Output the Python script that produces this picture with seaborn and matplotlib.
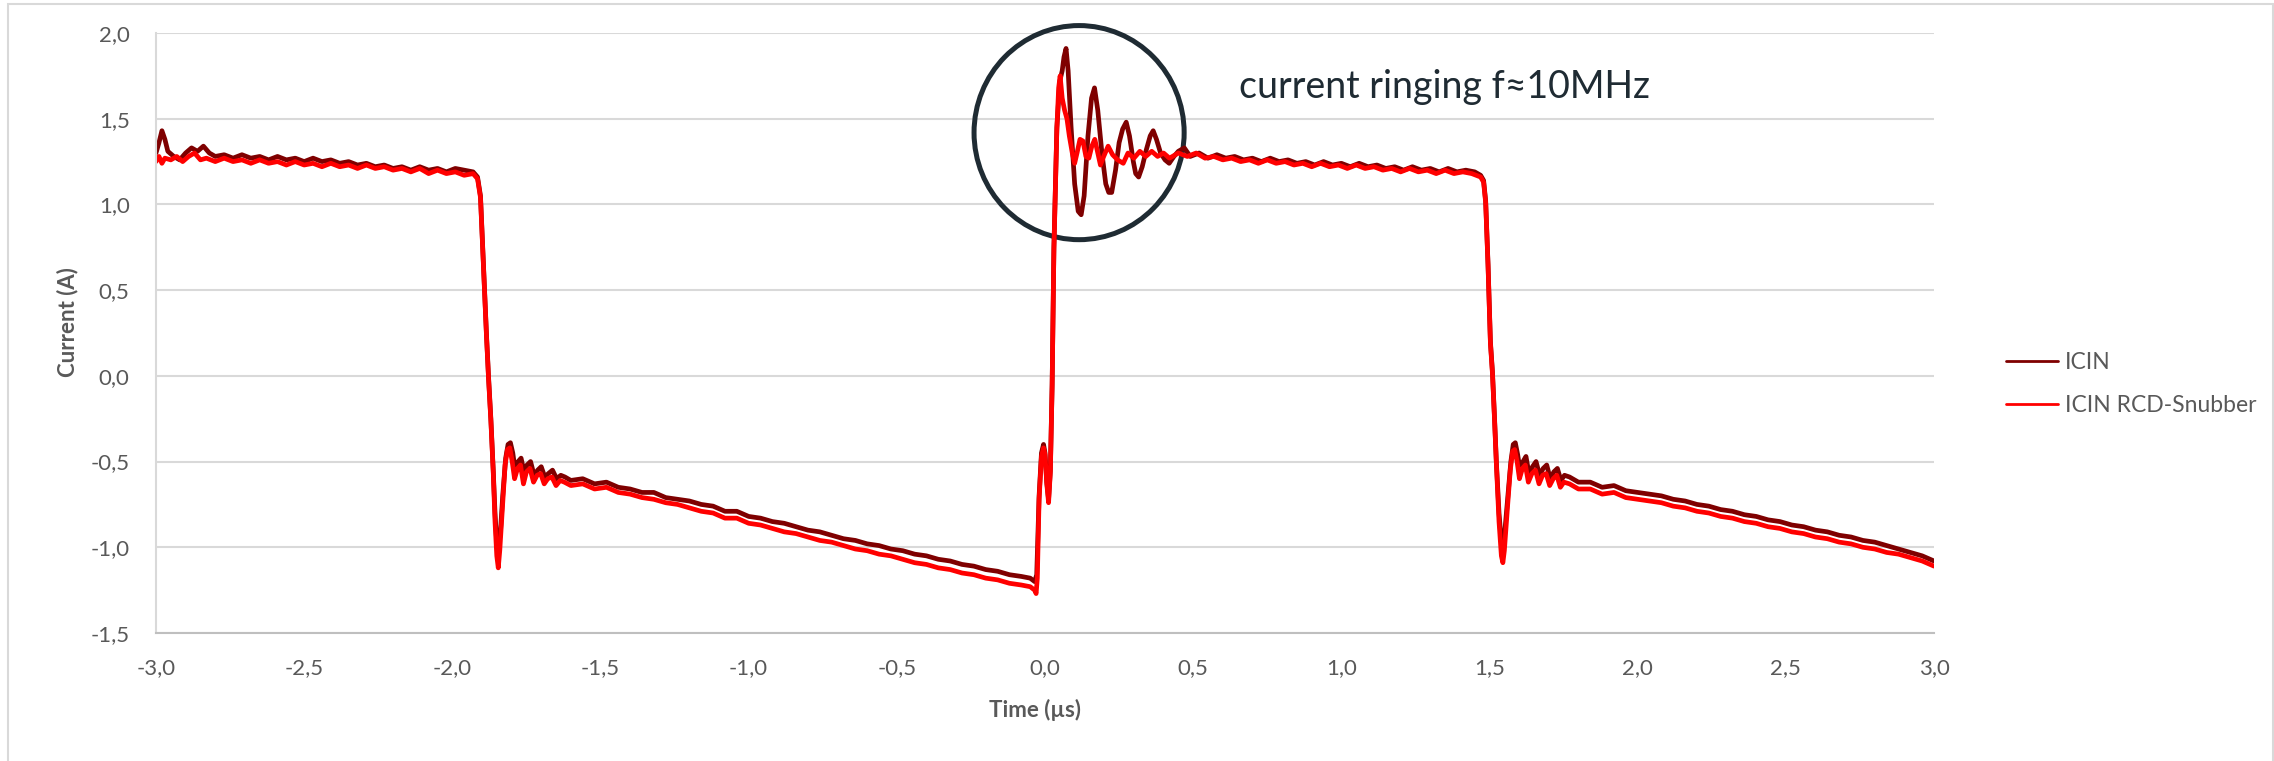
import matplotlib
matplotlib.use("Agg")
import matplotlib.pyplot as plt
from matplotlib.patches import Ellipse, Rectangle
import pandas as pd
import seaborn as sns

# ICIN (without snubber): time in us, current in A
icin_t = [-3.00, -2.99, -2.98, -2.97, -2.96, -2.94, -2.92, -2.90, -2.88, -2.86, -2.84, -2.82,
          -2.80, -2.77, -2.74, -2.71, -2.68, -2.65, -2.62, -2.59, -2.56, -2.53, -2.50, -2.47,
          -2.44, -2.41, -2.38, -2.35, -2.32, -2.29, -2.26, -2.23, -2.20, -2.17, -2.14, -2.11,
          -2.08, -2.05, -2.02, -1.99, -1.96, -1.93, -1.915, -1.905, -1.895, -1.885, -1.878,
          -1.870, -1.862, -1.856, -1.850, -1.845, -1.838, -1.830, -1.820, -1.812, -1.804,
          -1.796, -1.788, -1.778, -1.768, -1.758, -1.748, -1.736, -1.724, -1.712, -1.700,
          -1.688, -1.676, -1.662, -1.648, -1.634, -1.620, -1.60, -1.56, -1.52, -1.48, -1.44,
          -1.40, -1.36, -1.32, -1.28, -1.24, -1.20, -1.16, -1.12, -1.08, -1.04, -1.00, -0.96,
          -0.92, -0.88, -0.84, -0.80, -0.76, -0.72, -0.68, -0.64, -0.60, -0.56, -0.52, -0.48,
          -0.44, -0.40, -0.36, -0.32, -0.28, -0.24, -0.20, -0.16, -0.12, -0.08, -0.05, -0.035,
          -0.028, -0.020, -0.012, -0.005, 0.000, 0.006, 0.012, 0.018, 0.024, 0.030, 0.040,
          0.050, 0.058, 0.064, 0.071, 0.078, 0.088, 0.100, 0.112, 0.122, 0.132, 0.145, 0.157,
          0.167, 0.178, 0.192, 0.205, 0.215, 0.225, 0.238, 0.250, 0.262, 0.274, 0.285, 0.298,
          0.306, 0.316, 0.328, 0.342, 0.355, 0.365, 0.376, 0.390, 0.405, 0.419, 0.435, 0.450,
          0.47, 0.49, 0.52, 0.55, 0.58, 0.61, 0.64, 0.67, 0.70, 0.73, 0.76, 0.79, 0.82, 0.85,
          0.88, 0.91, 0.94, 0.97, 1.00, 1.03, 1.06, 1.09, 1.12, 1.15, 1.18, 1.21, 1.24, 1.27,
          1.30, 1.33, 1.36, 1.39, 1.42, 1.45, 1.47, 1.480, 1.487, 1.495, 1.503, 1.510, 1.517,
          1.523, 1.532, 1.540, 1.545, 1.552, 1.562, 1.572, 1.580, 1.587, 1.595, 1.603, 1.613,
          1.623, 1.633, 1.645, 1.657, 1.669, 1.681, 1.693, 1.705, 1.717, 1.729, 1.741, 1.753,
          1.77, 1.80, 1.84, 1.88, 1.92, 1.96, 2.00, 2.04, 2.08, 2.12, 2.16, 2.20, 2.24, 2.28,
          2.32, 2.36, 2.40, 2.44, 2.48, 2.52, 2.56, 2.60, 2.64, 2.68, 2.72, 2.76, 2.80, 2.84,
          2.88, 2.92, 2.96, 3.00]
icin_a = [1.30, 1.36, 1.43, 1.38, 1.31, 1.28, 1.26, 1.30, 1.33, 1.31, 1.34, 1.30,
          1.28, 1.29, 1.27, 1.29, 1.27, 1.28, 1.26, 1.28, 1.26, 1.27, 1.25, 1.27,
          1.25, 1.26, 1.24, 1.25, 1.23, 1.24, 1.22, 1.23, 1.21, 1.22, 1.20, 1.22,
          1.20, 1.21, 1.19, 1.21, 1.20, 1.19, 1.16, 1.05, 0.65, 0.25, 0.00,
          -0.25, -0.55, -0.80, -0.98, -1.00, -0.92, -0.70, -0.48, -0.40, -0.39,
          -0.45, -0.55, -0.50, -0.48, -0.56, -0.52, -0.50, -0.58, -0.55, -0.53,
          -0.59, -0.57, -0.55, -0.60, -0.58, -0.59, -0.61, -0.60, -0.63, -0.62, -0.65,
          -0.66, -0.68, -0.68, -0.71, -0.72, -0.73, -0.75, -0.76, -0.79, -0.79, -0.82, -0.83,
          -0.85, -0.86, -0.88, -0.90, -0.91, -0.93, -0.95, -0.96, -0.98, -0.99, -1.01, -1.02,
          -1.04, -1.05, -1.07, -1.08, -1.10, -1.11, -1.13, -1.14, -1.16, -1.17, -1.18, -1.20,
          -1.16, -0.70, -0.45, -0.40, -0.45, -0.62, -0.72, -0.55, -0.05, 0.75, 1.45,
          1.72, 1.78, 1.86, 1.91, 1.78, 1.45, 1.12, 0.96, 0.94, 1.05, 1.40, 1.62,
          1.68, 1.55, 1.30, 1.12, 1.07, 1.07, 1.20, 1.36, 1.44, 1.48, 1.40, 1.25,
          1.18, 1.16, 1.22, 1.32, 1.40, 1.43, 1.38, 1.30, 1.26, 1.24, 1.28, 1.31,
          1.33, 1.28, 1.30, 1.27, 1.29, 1.27, 1.28, 1.26, 1.27, 1.25, 1.27, 1.25, 1.26, 1.24,
          1.25, 1.23, 1.25, 1.23, 1.24, 1.22, 1.24, 1.22, 1.23, 1.21, 1.22, 1.20, 1.22, 1.20,
          1.21, 1.19, 1.21, 1.19, 1.20, 1.19, 1.17, 1.14, 1.02, 0.65, 0.20, 0.02, -0.25,
          -0.50, -0.80, -0.97, -0.98, -0.90, -0.70, -0.50, -0.40, -0.39, -0.46, -0.55, -0.50,
          -0.47, -0.57, -0.53, -0.50, -0.58, -0.54, -0.52, -0.60, -0.56, -0.54, -0.61, -0.58,
          -0.59, -0.62, -0.62, -0.65, -0.64, -0.67, -0.68, -0.69, -0.70, -0.72, -0.73, -0.75, -0.76, -0.78,
          -0.79, -0.81, -0.82, -0.84, -0.85, -0.87, -0.88, -0.90, -0.91, -0.93, -0.94, -0.96, -0.97, -0.99,
          -1.01, -1.03, -1.05, -1.08]

# ICIN with RCD snubber
snub_t = [-3.00, -2.99, -2.98, -2.97, -2.95, -2.93, -2.91, -2.89, -2.87, -2.85, -2.83,
          -2.80, -2.77, -2.74, -2.71, -2.68, -2.65, -2.62, -2.59, -2.56, -2.53, -2.50, -2.47,
          -2.44, -2.41, -2.38, -2.35, -2.32, -2.29, -2.26, -2.23, -2.20, -2.17, -2.14, -2.11,
          -2.08, -2.05, -2.02, -1.99, -1.96, -1.93, -1.915, -1.905, -1.895, -1.885, -1.878,
          -1.870, -1.862, -1.856, -1.850, -1.845, -1.840, -1.832, -1.822, -1.814, -1.806,
          -1.798, -1.790, -1.780, -1.770, -1.760, -1.750, -1.738, -1.726, -1.714, -1.702,
          -1.690, -1.678, -1.664, -1.650, -1.636, -1.622, -1.60, -1.56, -1.52, -1.48, -1.44,
          -1.40, -1.36, -1.32, -1.28, -1.24, -1.20, -1.16, -1.12, -1.08, -1.04, -1.00, -0.96,
          -0.92, -0.88, -0.84, -0.80, -0.76, -0.72, -0.68, -0.64, -0.60, -0.56, -0.52, -0.48,
          -0.44, -0.40, -0.36, -0.32, -0.28, -0.24, -0.20, -0.16, -0.12, -0.08, -0.05, -0.035,
          -0.030, -0.026, -0.020, -0.012, -0.005, 0.000, 0.006, 0.012, 0.018, 0.024, 0.030,
          0.040, 0.046, 0.051, 0.058, 0.066, 0.074, 0.082, 0.092, 0.100, 0.108, 0.118, 0.128,
          0.138, 0.148, 0.158, 0.168, 0.178, 0.187, 0.198, 0.213, 0.228, 0.245, 0.264,
          0.28, 0.30, 0.32, 0.34, 0.36, 0.38, 0.40, 0.42, 0.45, 0.48, 0.51, 0.54, 0.57, 0.60,
          0.63, 0.66, 0.69, 0.72, 0.75, 0.78, 0.81, 0.84, 0.87, 0.90, 0.93, 0.96, 0.99, 1.02,
          1.05, 1.08, 1.11, 1.14, 1.17, 1.20, 1.23, 1.26, 1.29, 1.32, 1.35, 1.38, 1.41, 1.44,
          1.47, 1.480, 1.487, 1.495, 1.503, 1.510, 1.517, 1.523, 1.532, 1.540, 1.545, 1.550,
          1.560, 1.570, 1.578, 1.585, 1.593, 1.601, 1.611, 1.621, 1.631, 1.643, 1.655, 1.667,
          1.679, 1.691, 1.703, 1.715, 1.727, 1.739, 1.751, 1.77, 1.80, 1.84, 1.88, 1.92, 1.96,
          2.00, 2.04, 2.08, 2.12, 2.16, 2.20, 2.24, 2.28, 2.32, 2.36, 2.40, 2.44, 2.48, 2.52,
          2.56, 2.60, 2.64, 2.68, 2.72, 2.76, 2.80, 2.84, 2.88, 2.92, 2.96, 3.00]
snub_a = [1.25, 1.28, 1.24, 1.27, 1.26, 1.28, 1.25, 1.28, 1.30, 1.26, 1.27,
          1.25, 1.27, 1.25, 1.26, 1.24, 1.26, 1.24, 1.25, 1.23, 1.25, 1.23, 1.24,
          1.22, 1.24, 1.22, 1.23, 1.21, 1.23, 1.21, 1.22, 1.20, 1.21, 1.19, 1.21,
          1.18, 1.20, 1.18, 1.19, 1.17, 1.18, 1.15, 1.04, 0.64, 0.24, -0.01,
          -0.26, -0.56, -0.85, -1.05, -1.12, -1.02, -0.80, -0.52, -0.43, -0.42,
          -0.50, -0.60, -0.54, -0.52, -0.63, -0.56, -0.54, -0.62, -0.58, -0.57,
          -0.63, -0.60, -0.59, -0.64, -0.61, -0.62, -0.64, -0.63, -0.66, -0.65, -0.68,
          -0.69, -0.71, -0.72, -0.74, -0.75, -0.77, -0.79, -0.80, -0.83, -0.83, -0.86, -0.87,
          -0.89, -0.91, -0.92, -0.94, -0.96, -0.97, -0.99, -1.01, -1.02, -1.04, -1.05, -1.07,
          -1.09, -1.10, -1.12, -1.13, -1.15, -1.16, -1.18, -1.19, -1.21, -1.22, -1.23, -1.25,
          -1.27, -1.18, -0.72, -0.47, -0.42, -0.46, -0.63, -0.74, -0.56, -0.06, 0.74,
          1.44, 1.68, 1.75, 1.62, 1.55, 1.50, 1.40, 1.30, 1.24, 1.30, 1.38, 1.37,
          1.28, 1.27, 1.34, 1.38, 1.30, 1.23, 1.28, 1.34, 1.29, 1.26, 1.24,
          1.30, 1.27, 1.31, 1.28, 1.31, 1.28, 1.30, 1.27, 1.30, 1.28, 1.30, 1.27, 1.28, 1.26,
          1.27, 1.25, 1.26, 1.24, 1.26, 1.24, 1.25, 1.23, 1.24, 1.22, 1.24, 1.22, 1.23, 1.21,
          1.23, 1.21, 1.22, 1.20, 1.21, 1.19, 1.21, 1.19, 1.20, 1.18, 1.20, 1.18, 1.19, 1.18,
          1.16, 1.13, 1.01, 0.64, 0.19, 0.01, -0.26, -0.51, -0.85, -1.05, -1.09, -1.02,
          -0.78, -0.55, -0.44, -0.43, -0.50, -0.60, -0.54, -0.52, -0.62, -0.57, -0.55, -0.63,
          -0.58, -0.57, -0.64, -0.60, -0.58, -0.65, -0.62, -0.63, -0.66, -0.66, -0.69, -0.68, -0.71,
          -0.72, -0.73, -0.74, -0.76, -0.77, -0.79, -0.80, -0.82, -0.83, -0.85, -0.86, -0.88, -0.89, -0.91,
          -0.92, -0.94, -0.95, -0.97, -0.98, -1.00, -1.01, -1.03, -1.04, -1.06, -1.08, -1.11]

series_names = ["ICIN", "ICIN RCD-Snubber"]
series_colors = ["#7f0000", "#ff0000"]

xtick_vals = [-3.0, -2.5, -2.0, -1.5, -1.0, -0.5, 0.0, 0.5, 1.0, 1.5, 2.0, 2.5, 3.0]
xtick_labels = ["-3,0", "-2,5", "-2,0", "-1,5", "-1,0", "-0,5", "0,0", "0,5", "1,0", "1,5", "2,0", "2,5", "3,0"]
ytick_vals = [-1.5, -1.0, -0.5, 0.0, 0.5, 1.0, 1.5, 2.0]
ytick_labels = ["-1,5", "-1,0", "-0,5", "0,0", "0,5", "1,0", "1,5", "2,0"]

df = pd.concat([
    pd.DataFrame({"Time": icin_t, "Current": icin_a, "Series": series_names[0]}),
    pd.DataFrame({"Time": snub_t, "Current": snub_a, "Series": series_names[1]}),
])

sns.set_theme(style="white")
plt.rcParams["font.family"] = ["Lato", "DejaVu Sans"]
grey = "#595959"

fig = plt.figure(figsize=(22.74, 7.61), dpi=100)
ax = fig.add_axes([0.0686, 0.1682, 0.7819, 0.7884])

sns.lineplot(data=df, x="Time", y="Current", hue="Series", hue_order=series_names,
             palette=dict(zip(series_names, series_colors)), estimator=None, sort=False,
             lw=3.4, ax=ax)

ax.set_xlim(-3.0, 3.0)
ax.set_ylim(-1.5, 2.0)
ax.set_xticks(xtick_vals)
ax.set_xticklabels(xtick_labels)
ax.set_yticks(ytick_vals)
ax.set_yticklabels(ytick_labels)
ax.tick_params(axis="x", length=0, pad=18, labelsize=16, labelcolor=grey)
ax.tick_params(axis="y", length=0, pad=19, labelsize=16, labelcolor=grey)
ax.yaxis.grid(True, color="#d9d9d9", lw=1.5)
ax.xaxis.grid(False)
for s in ["top", "right"]:
    ax.spines[s].set_visible(False)
ax.spines["left"].set_color("#d9d9d9")
ax.spines["left"].set_linewidth(1.5)
ax.spines["bottom"].set_color("#bfbfbf")
ax.spines["bottom"].set_linewidth(1.5)

ax.set_xlabel("Time (µs)", fontsize=16, fontweight="bold", color=grey)
ax.set_ylabel("Current (A)", fontsize=16, fontweight="bold", color=grey)
ax.xaxis.set_label_coords(0.4944, -0.128)
ax.xaxis.label.set_va("center")
ax.yaxis.set_label_coords(-0.0495, 0.518)
ax.yaxis.label.set_va("center")

sns.move_legend(ax, "center left", bbox_to_anchor=(1.0287, 0.415), frameon=False, title=None,
                fontsize=16.5, handlelength=2.3, handletextpad=0.3, labelspacing=1.0)
for line in ax.get_legend().get_lines():
    line.set_linewidth(2)
for txt in ax.get_legend().get_texts():
    txt.set_color(grey)

# ringing marker
ax.add_patch(Ellipse((0.115, 1.419), 0.709, 1.249, fill=False, ec="#1f2b33", lw=3.6, clip_on=False))
ax.text(0.655, 1.621, "current ringing f≈10MHz", fontsize=27, color="#1f2b33",
        ha="left", va="baseline", clip_on=False)

fig.add_artist(Rectangle((8 / 2274, -0.05), 2265 / 2274, 1.05 - 4 / 761,
                         transform=fig.transFigure, fill=False, ec="#d9d9d9", lw=1.5))

fig.savefig("out.png", dpi=100)
